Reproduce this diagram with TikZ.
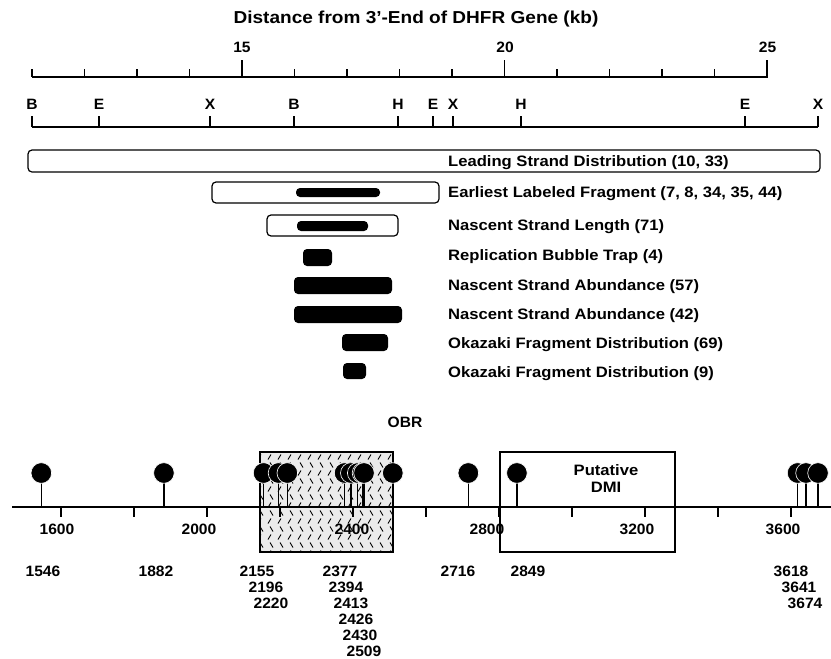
\documentclass[tikz,border=0pt]{standalone}
\usepackage{fontspec}
\setmainfont{Liberation Sans}[FakeStretch=1.1]
\newfontfamily\numf{Liberation Sans}[FakeStretch=1.04]
\begin{document}
\begin{tikzpicture}[x=1pt,y=-1pt,
  ln/.style={line width=1.6pt},
  tk/.style={line width=1.5pt},
  openbar/.style={draw, line width=1.2pt, rounded corners=4pt},
  fillbar/.style={fill=black, rounded corners=4pt},
  tracklab/.style={anchor=base west, inner sep=0pt, font=\fontsize{15.1}{18}\selectfont\bfseries},
  titlelab/.style={anchor=base, inner sep=0pt, font=\fontsize{17.3}{20}\selectfont\bfseries},
  numlab/.style={anchor=base, inner sep=0pt, font=\numf\fontsize{15}{17}\selectfont\bfseries},
  sitelab/.style={anchor=base, inner sep=0pt, font=\numf\fontsize{15}{17}\selectfont\bfseries},
  stem/.style={line width=1.5pt},
  pin/.style={fill=black, draw=white, line width=0.6pt}
]
\useasboundingbox (0,0) rectangle (831,659);

% ---------- title ----------
\node[titlelab] (title) at (416,23) {Distance from 3'-End of DHFR Gene (kb)};

% ---------- kb scale ----------
\draw[ln] (32,76.7) -- (767.5,76.7);
\foreach \i in {0,...,14} {
  \pgfmathsetmacro\xx{32+52.5*\i}
  \ifnum\i=4 \draw[tk] (\xx,76.7) -- (\xx,60);
  \else\ifnum\i=9 \draw[tk] (\xx,76.7) -- (\xx,60);
  \else\ifnum\i=14 \draw[tk] (\xx,76.7) -- (\xx,60);
  \else \draw[tk] (\xx,76.7) -- (\xx,68.5);
  \fi\fi\fi
}
\node[numlab] (k15) at (242,52.5) {15};
\node[numlab] (k20) at (505,52.5) {20};
\node[numlab] (k25) at (767.5,52.5) {25};

% ---------- restriction map ----------
\draw[ln] (32,127) -- (818,127);
\foreach \xx/\t/\n in {32/B/r1, 99/E/r2, 210/X/r3, 294/B/r4, 398/H/r5, 433/E/r6, 453/X/r7, 521/H/r8, 745/E/r9, 818/X/r10} {
  \draw[tk] (\xx,127) -- (\xx,116);
  \node[numlab] (\n) at (\xx,109.5) {\t};
}

% ---------- tracks ----------
\draw[openbar] (28,150) rectangle (820,172);
\node[tracklab] (t1) at (448,166.5) {Leading Strand Distribution (10, 33)};

\draw[openbar] (212,182) rectangle (439,203);
\fill[fillbar] (296,188) rectangle (380,197);
\node[tracklab] (t2) at (448,197.5) {Earliest Labeled Fragment (7, 8, 34, 35, 44)};

\draw[openbar] (267,215) rectangle (398,236);
\fill[fillbar] (297,221) rectangle (368,231);
\node[tracklab] (t3) at (448,230.5) {Nascent Strand Length (71)};

\fill[fillbar] (303,249) rectangle (332,266);
\node[tracklab] (t4) at (448,260) {Replication Bubble Trap (4)};

\fill[fillbar] (294,277) rectangle (392,294);
\node[tracklab] (t5) at (448,290) {Nascent Strand Abundance (57)};

\fill[fillbar] (294,306) rectangle (402,323);
\node[tracklab] (t6) at (448,319) {Nascent Strand Abundance (42)};

\fill[fillbar] (342,334) rectangle (388,351);
\node[tracklab] (t7) at (448,348) {Okazaki Fragment Distribution (69)};

\fill[fillbar] (343,363) rectangle (366,379);
\node[tracklab] (t8) at (448,377) {Okazaki Fragment Distribution (9)};

% ---------- OBR map ----------
\node[numlab] (obr) at (405,427) {OBR};

% hatched OBR box
\fill[gray!16] (260,452) rectangle (393,552);
\begin{scope}
  \clip (260,452) rectangle (393,552);
  \foreach \r in {0,...,12} {
    \pgfmathsetmacro\yy{457+8*\r}
    \pgfmathsetmacro\off{mod(\r,2)*5}
    \pgfmathsetmacro\dd{ifthenelse(mod(\r,2)==0,1,-1)}
    \foreach \c in {0,...,14} {
      \draw[line width=0.9pt] ({258+\off+10*\c},{\yy+2.5}) -- ++({3*\dd},-5);
    }
  }
\end{scope}
\draw[line width=1.2pt] (260,452) rectangle (393,552);

% putative DMI box
\draw[line width=1.2pt] (500,452) rectangle (675,552);
\node[tracklab, anchor=base] (dmi1) at (606,475.5) {Putative};
\node[tracklab, anchor=base] (dmi2) at (606,492.5) {DMI};

% axis
\draw[ln] (12,507) -- (831,507);
\foreach \xx in {61,134,207,280,353,426,499,572,645,718,791} {
  \draw[tk] (\xx,507) -- (\xx,517);
}
\foreach \xx/\t in {57/1600, 199/2000, 352/2400, 487/2800, 637/3200, 783/3600} {
  \node[numlab] (a\t) at (\xx,534) {\t};
}

% lollipops
\foreach \xx in {41.3,163.9,263.6,278.5,287.3,344.6,350.8,357.7,362.5,364.0,392.8,468.3,516.9,797.6,806.0,818.0} {
  \draw[stem] (\xx,473) -- (\xx,507);
}
\foreach \xx in {41.3,163.9,263.6,278.5,287.3,344.6,350.8,357.7,362.5,364.0,392.8,468.3,516.9,797.6,806.0,818.0} {
  \filldraw[pin] (\xx,473) circle (10.3);
}

% site labels
\foreach \xx/\yy/\t in {43/576/1546, 156/576/1882, 257/576/2155, 266/592/2196, 271/608/2220,
  340/576/2377, 346/592/2394, 351/608/2413, 356/624/2426, 360/640/2430, 364/656/2509,
  458/576/2716, 528/576/2849, 791/576/3618, 799/592/3641, 805/608/3674} {
  \node[sitelab] (s\t) at (\xx,\yy) {\t};
}
\end{tikzpicture}
\end{document}
